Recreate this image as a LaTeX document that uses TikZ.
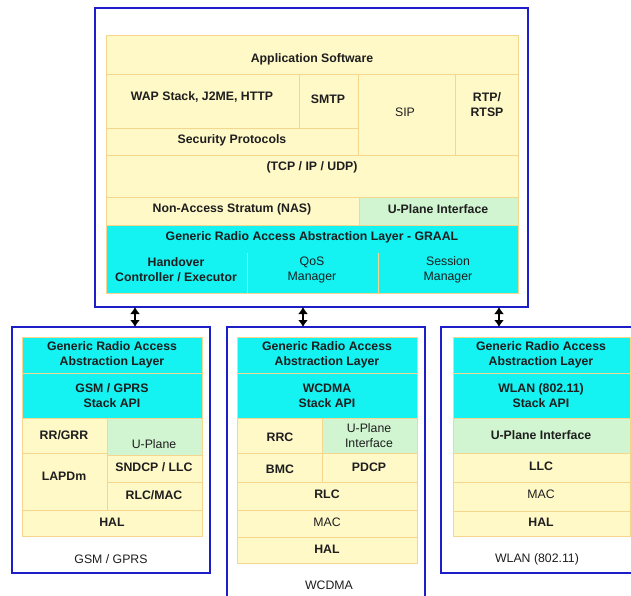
\documentclass[tikz,border=0pt]{standalone}
\usepackage{fontspec}
\setmainfont{Liberation Sans}
\usetikzlibrary{arrows.meta}
\definecolor{ylw}{RGB}{255,249,200}
\definecolor{cellline}{RGB}{245,214,140}
\definecolor{cyn}{RGB}{20,242,242}
\definecolor{grn}{RGB}{208,245,208}
\definecolor{frame}{RGB}{30,30,200}
\definecolor{ink}{RGB}{30,30,30}
\newcommand\lblfont{\fontsize{12.3}{15}\selectfont}
\newcommand\cellbox[8]{%
  \node[#1, anchor=north west, minimum width={#5-#3}, minimum height={#6-#4}] (#2) at (#3,#4) {};
  \node[txt] (#2t) at (#7) {#8};}
\tikzset{
  cellbase/.style={draw=cellline, line width=0.8pt, inner sep=0pt, outer sep=0pt},
  ycell/.style={cellbase, fill=ylw},
  ccell/.style={cellbase, fill=cyn},
  gcell/.style={cellbase, fill=grn},
  txt/.style={inner sep=0pt, align=center, text=ink, font=\lblfont\bfseries},
  rtxt/.style={inner sep=0pt, align=center, text=ink, font=\lblfont},
  frm/.style={draw=frame, line width=2pt, fill=white, inner sep=0pt, outer sep=0pt},
  dblarrow/.style={line width=2.5pt, {Latex[length=7pt,width=10pt]}-{Latex[length=7pt,width=10pt]}},
}
\begin{document}
\begin{tikzpicture}[x=1pt,y=-1pt]
\useasboundingbox (0,0) rectangle (631,596);
\clip (0,0) rectangle (631,596);
\fill[white] (0,0) rectangle (631,596);
% ---------- top frame ----------
\node[frm, anchor=north west, minimum width=433, minimum height=299] (top) at (95,8) {};
\cellbox{ycell}{app}{106}{35}{518}{74}{312,59}{Application Software}
\cellbox{ycell}{wap}{106}{74}{299}{128}{202,97}{WAP Stack, J2ME, HTTP}
\cellbox{ycell}{smtp}{299}{74}{358}{128}{328,99}{SMTP}
\cellbox{ycell}{sec}{106}{128}{358}{155}{232,140}{Security Protocols}
\cellbox{ycell}{sip}{358}{74}{455}{155}{405,112}{\mdseries SIP}
\cellbox{ycell}{rtp}{455}{74}{518}{155}{487,105}{RTP/\\RTSP}
\cellbox{ycell}{tcp}{106}{155}{518}{197}{312,167}{(TCP / IP / UDP)}
\cellbox{ycell}{nas}{106}{197}{359}{225}{232,209}{Non-Access Stratum (NAS)}
\cellbox{gcell}{upi}{359}{197}{518}{225}{438,209}{U-Plane Interface}
\cellbox{ccell}{graal}{106}{225}{518}{293}{312,237}{Generic Radio Access Abstraction Layer - GRAAL}
\draw[cellline, line width=0.8pt] (247,253) -- (247,293) (378,253) -- (378,293);
\node[txt] (ho) at (176,270) {Handover\\Controller / Executor};
\node[rtxt] (qos) at (312,270) {QoS\\Manager};
\node[rtxt] (sess) at (448,270) {Session\\Manager};
% ---------- GSM / GPRS ----------
\node[frm, anchor=north west, minimum width=198, minimum height=246] (gsm) at (12,327) {};
\cellbox{ccell}{g1}{22}{337}{202}{373}{112,355}{Generic Radio Access\\Abstraction Layer}
\cellbox{ccell}{gapi}{22}{373}{202}{418}{112,396}{GSM / GPRS\\Stack API}
\cellbox{ycell}{rrgrr}{22}{418}{107}{453}{64,435}{RR/GRR}
\cellbox{gcell}{gup}{107}{418}{202}{455}{154,444}{\mdseries U-Plane}
\cellbox{ycell}{lapdm}{22}{453}{107}{510}{64,476}{LAPDm}
\cellbox{ycell}{sndcp}{107}{455}{202}{482}{154,467}{SNDCP / LLC}
\cellbox{ycell}{rlcmac}{107}{482}{202}{510}{154,495}{RLC/MAC}
\cellbox{ycell}{ghal}{22}{510}{202}{536}{112,522}{HAL}
\node[rtxt] (gsml) at (111,559) {GSM / GPRS};
% ---------- WCDMA ----------
\node[frm, anchor=north west, minimum width=198, minimum height=280] (wcd) at (227,327) {};
\cellbox{ccell}{g2}{237}{337}{417}{373}{327,355}{Generic Radio Access\\Abstraction Layer}
\cellbox{ccell}{wapi}{237}{373}{417}{418}{327,396}{WCDMA\\Stack API}
\cellbox{ycell}{rrc}{237}{418}{322}{453}{280,437}{RRC}
\cellbox{gcell}{wup}{322}{418}{417}{453}{369,436}{\mdseries U-Plane\\\mdseries Interface}
\cellbox{ycell}{bmc}{237}{453}{322}{482}{280,469}{BMC}
\cellbox{ycell}{pdcp}{322}{453}{417}{482}{369,467}{PDCP}
\cellbox{ycell}{wrlc}{237}{482}{417}{510}{327,494}{RLC}
\cellbox{ycell}{wmac}{237}{510}{417}{537}{327,522}{\mdseries MAC}
\cellbox{ycell}{whal}{237}{537}{417}{563}{327,549}{HAL}
\node[rtxt] (wcdl) at (329,585) {WCDMA};
% ---------- WLAN ----------
\node[frm, anchor=north west, minimum width=200, minimum height=246] (wlan) at (441,327) {};
\cellbox{ccell}{g3}{453}{337}{630}{373}{541,355}{Generic Radio Access\\Abstraction Layer}
\cellbox{ccell}{lapi}{453}{373}{630}{418}{541,396}{WLAN (802.11)\\Stack API}
\cellbox{gcell}{lup}{453}{418}{630}{453}{541,435}{U-Plane Interface}
\cellbox{ycell}{llc}{453}{453}{630}{482}{541,466}{LLC}
\cellbox{ycell}{lmac}{453}{482}{630}{511}{541,494}{\mdseries MAC}
\cellbox{ycell}{lhal}{453}{511}{630}{536}{541,522}{HAL}
\node[rtxt] (wlanl) at (537,559) {WLAN (802.11)};
% ---------- arrows ----------
\draw[dblarrow] (top.south -| 135,0) -- (gsm.north -| 135,0);
\draw[dblarrow] (top.south -| 303,0) -- (wcd.north -| 303,0);
\draw[dblarrow] (top.south -| 499,0) -- (wlan.north -| 499,0);
\end{tikzpicture}
\end{document}
